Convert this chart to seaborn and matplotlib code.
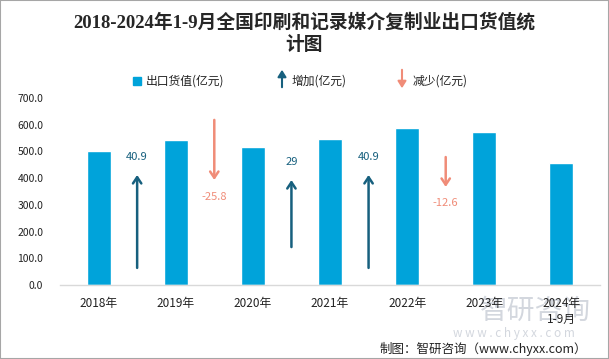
import numpy as np
import pandas as pd
import matplotlib
matplotlib.use("Agg")
import matplotlib.pyplot as plt
from matplotlib.patches import Rectangle, FancyArrowPatch
import seaborn as sns

# data
years = ['2018年', '2019年', '2020年', '2021年', '2022年', '2023年', '2024年\n1-9月']
export_value = [501.0, 541.9, 516.1, 545.1, 586.0, 573.4, 458.0]

# year-on-year change arrows, drawn between neighbouring bars
change_pos = [0.5, 1.5, 2.5, 3.5, 4.5]
change_val = [40.9, -25.8, 29, 40.9, -12.6]
arrow_tail = [64, 618, 142, 64, 479]
arrow_head = [412, 393, 393, 412, 367]
label_y = [479, 330, 461, 479, 307]

bar_color = '#00A3DA'
up_color = '#17607E'
down_color = '#F08C78'

sns.set_style('white')
plt.rcParams['font.family'] = ['Noto Sans CJK SC', 'DejaVu Sans']
plt.rcParams['axes.unicode_minus'] = False

fig = plt.figure(figsize=(6.09, 3.59), dpi=100)
ax = fig.add_axes([60 / 609, 74 / 359, 540 / 609, 187 / 359])
ax.set_facecolor('none')

df = pd.DataFrame({'year': years, 'value': export_value})
sns.barplot(data=df, x='year', y='value', color=bar_color, width=0.31,
            saturation=1, ax=ax)

for x, v, t, h, ly in zip(change_pos, change_val, arrow_tail, arrow_head, label_y):
    c = up_color if v > 0 else down_color
    ax.annotate('', xy=(x, h), xytext=(x, t),
                arrowprops=dict(arrowstyle='->,head_length=0.45,head_width=0.3',
                                color=c, lw=1.8, shrinkA=0, shrinkB=0))
    ax.text(x, ly, f'{v:g}', color=c, ha='center', va='center', fontsize=8)

ax.set_xlim(-0.5, 6.5)
ax.set_ylim(0, 700)
ax.set_yticks(np.arange(0, 701, 100))
ax.set_yticklabels([f'{t:.1f}' for t in np.arange(0, 701, 100)])
ax.set_xlabel('')
ax.set_ylabel('')
ax.tick_params(axis='y', length=0, pad=12, labelsize=7.5, labelcolor='#222222')
ax.tick_params(axis='x', length=0, pad=9, labelsize=8.5, labelcolor='#222222')
for s in ['top', 'right', 'left']:
    ax.spines[s].set_visible(False)
ax.spines['bottom'].set_color('#d9d9d9')
ax.spines['bottom'].set_linewidth(1)

# title
fig.text(304 / 609, 1 - 13 / 359, '2018-2024年1-9月全国印刷和记录媒介复制业出口货值统\n计图',
         ha='center', va='top', fontsize=13.5, fontweight='bold', linespacing=1.3,
         family=['Liberation Serif', 'Noto Sans CJK SC'])

# legend, drawn by hand
ly = 1 - 81 / 359
fig.patches.append(Rectangle((133 / 609, ly - 4 / 359), 8 / 609, 8 / 359,
                             transform=fig.transFigure, color=bar_color))
fig.text(146 / 609, ly, '出口货值(亿元)', va='center', fontsize=8.5, color='#222222')
fig.patches.append(FancyArrowPatch((282 / 609, 1 - 90 / 359), (282 / 609, 1 - 67 / 359),
                                   transform=fig.transFigure, color=up_color, lw=1.5,
                                   arrowstyle='-|>,head_length=4,head_width=2.5'))
fig.text(292 / 609, ly, '增加(亿元)', va='center', fontsize=8.5, color='#222222')
fig.patches.append(FancyArrowPatch((402 / 609, 1 - 67 / 359), (402 / 609, 1 - 91 / 359),
                                   transform=fig.transFigure, color=down_color, lw=1.5,
                                   arrowstyle='-|>,head_length=4,head_width=2.5'))
fig.text(413 / 609, ly, '减少(亿元)', va='center', fontsize=8.5, color='#222222')

# watermark
fig.text(535 / 609, 1 - 311 / 359, '智研咨询', ha='center', va='center', fontsize=20,
         color='#d3d7de', zorder=-1)
fig.text(514 / 609, 1 - 333 / 359, 'w w w . c h y x x . c o m', ha='center', va='center',
         fontsize=8.5, color='#d3d7de', zorder=-1)

# source
fig.text(587 / 609, 1 - 349 / 359, '制图：智研咨询（www.chyxx.com）', ha='right', va='center',
         fontsize=9, color='#222222')

fig.patches.append(Rectangle((0, 0), 1, 1, transform=fig.transFigure, fill=False,
                             ec='#a6a6a6', lw=1.5))

fig.savefig('out.png', dpi=100)
